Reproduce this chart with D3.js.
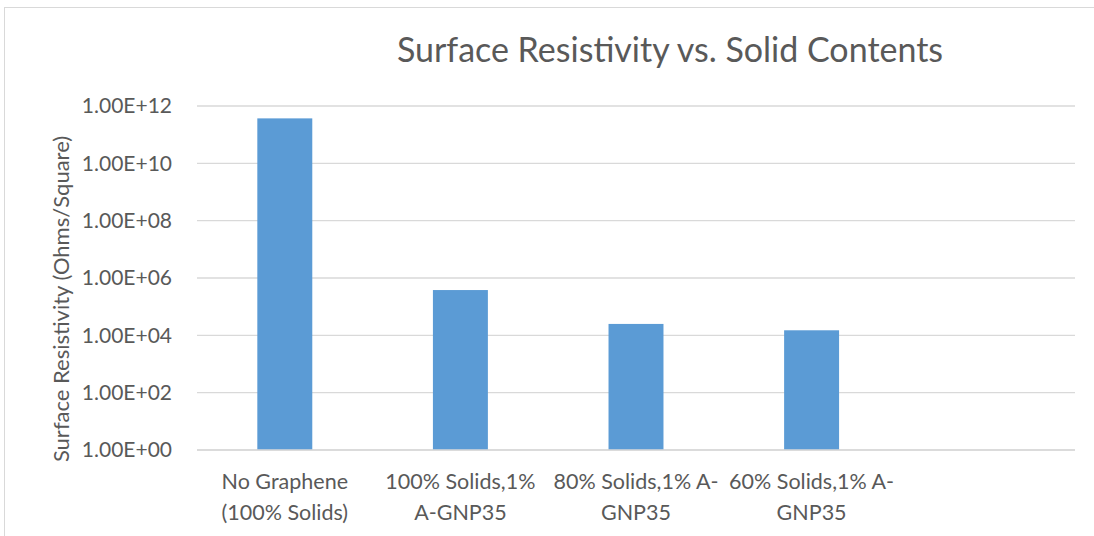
<!DOCTYPE html>
<html><head><meta charset="utf-8">
<script src="https://cdn.jsdelivr.net/npm/d3@7"></script>
<style>body{margin:0;background:#fff}svg{display:block}</style>
</head><body>
<svg id="c" width="1094" height="536"></svg>
<script>
const categories = [["No Graphene","(100% Solids)"],["100% Solids,1%","A-GNP35"],["80% Solids,1% A-","GNP35"],["60% Solids,1% A-","GNP35"],["",""]];
const values = [3.7e11, 3.8e5, 2.5e4, 1.5e4, null];
const tickValues = [1e0,1e2,1e4,1e6,1e8,1e10,1e12];
const tickLabels = ["1.00E+00","1.00E+02","1.00E+04","1.00E+06","1.00E+08","1.00E+10","1.00E+12"];
const title = "Surface Resistivity vs. Solid Contents";
const yTitle = "Surface Resistivity (Ohms/Square)";

(function(){
const svg = d3.select("#c");
const font = "Lato, 'Open Sans', sans-serif";
const txt = "#595959";
const pl=197, pr=1075, pt=106, pb=450;

svg.append("rect").attr("x",4.5).attr("y",7.5).attr("width",1200).attr("height",600)
  .attr("fill","none").attr("stroke","#d9d9d9").attr("stroke-width",1);

const x = d3.scaleBand().domain(d3.range(categories.length)).range([pl,pr]).padding(0);
const y = d3.scaleLog().domain([1,1e12]).range([pb,pt]);

svg.append("g").selectAll("line").data(tickValues).join("line")
  .attr("x1",pl).attr("x2",pr)
  .attr("y1",d=>y(d)).attr("y2",d=>y(d))
  .attr("stroke","#d9d9d9").attr("stroke-width",1.3);

const yAxis = d3.axisLeft(y).tickValues(tickValues).tickFormat((d,i)=>tickLabels[i]).tickSize(0).tickPadding(25);
const ya = svg.append("g").attr("transform",`translate(${pl},0)`).call(yAxis);
ya.select(".domain").remove();
ya.selectAll("text").attr("font-family",font).attr("font-size",21).attr("fill",txt);

const bw = x.bandwidth()*0.313;
svg.append("g").selectAll("rect").data(values.map((v,i)=>({v,i})).filter(d=>d.v!=null)).join("rect")
  .attr("x",d=>x(d.i)+x.bandwidth()/2-bw/2).attr("width",bw)
  .attr("y",d=>y(d.v)).attr("height",d=>pb-y(d.v))
  .attr("fill","#5b9bd5");

svg.append("line").attr("x1",pl).attr("x2",pr).attr("y1",pb).attr("y2",pb)
  .attr("stroke","#d9d9d9").attr("stroke-width",1.3);

const xl = svg.append("g");
categories.forEach((c,i)=>{
  const cx = x(i)+x.bandwidth()/2;
  const t = xl.append("text").attr("text-anchor","middle")
    .attr("font-family",font).attr("font-size",21.5).attr("fill",txt);
  t.append("tspan").attr("x",cx).attr("y",489).text(c[0]);
  t.append("tspan").attr("x",cx).attr("y",520).text(c[1]);
});

svg.append("text").attr("x",670).attr("y",62).attr("text-anchor","middle")
  .attr("font-family",font).attr("font-size",34).attr("fill",txt).text(title);

svg.append("text").attr("transform","translate(69,299) rotate(-90)").attr("text-anchor","middle")
  .attr("font-family",font).attr("font-size",22).attr("fill",txt).text(yTitle);
})();
</script>
</body></html>
